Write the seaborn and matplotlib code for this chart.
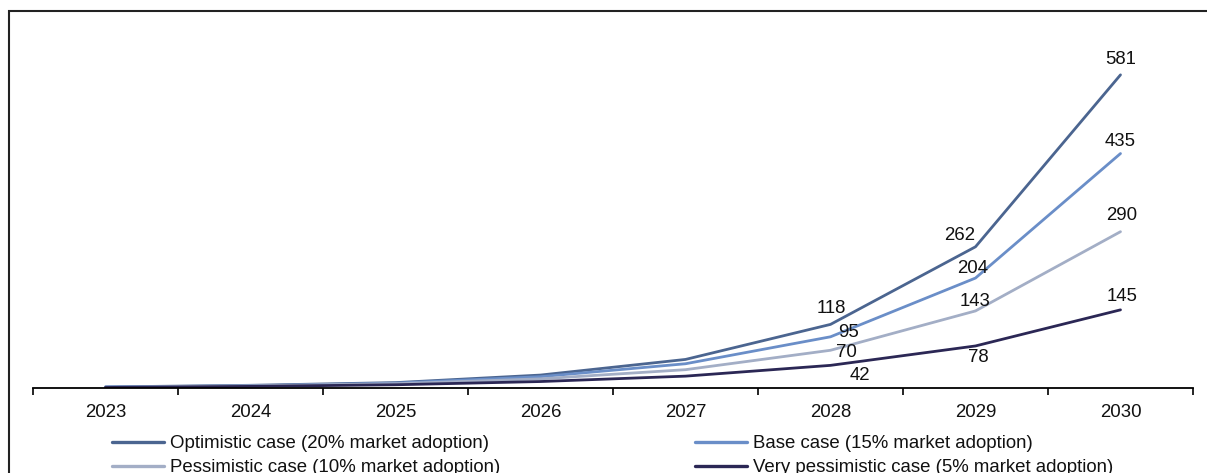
import matplotlib
matplotlib.use("Agg")
import matplotlib.pyplot as plt
import seaborn as sns
import pandas as pd
from matplotlib.patches import Rectangle

# Scenario data
years = ["2023", "2024", "2025", "2026", "2027", "2028", "2029", "2030"]
optimistic = [2, 5, 10, 24, 53, 118, 262, 581]
base = [2, 4, 9, 21, 45, 95, 204, 435]
pessimistic = [1, 4, 8, 17, 34, 70, 143, 290]
very_pessimistic = [1, 3, 6, 12, 22, 42, 78, 145]

series_names = [
    "Optimistic case (20% market adoption)",
    "Base case (15% market adoption)",
    "Pessimistic case (10% market adoption)",
    "Very pessimistic case (5% market adoption)",
]
series_values = [optimistic, base, pessimistic, very_pessimistic]
colors = ["#4b6590", "#6a8ec8", "#a3aec6", "#2b2755"]

# Labelled years and label offsets (pixels) per series
labelled = ["2028", "2029", "2030"]
label_offsets = [
    [(1, 16), (-16, 11), (0, 15)],
    [(18, 4), (-3, 10), (0, 12)],
    [(16, -2), (0, 9), (1, 16)],
    [(29, -10), (3, -12), (2, 13)],
]

rows = []
for name, vals in zip(series_names, series_values):
    for i, (y, v) in enumerate(zip(years, vals)):
        rows.append({"pos": i, "year": y, "value": v, "scenario": name})
df = pd.DataFrame(rows)

sns.set_theme(style="white")
plt.rcParams["font.family"] = ["Liberation Sans", "DejaVu Sans"]
FS = 13.4

fig = plt.figure(figsize=(12.07, 4.73), dpi=100)
W, H = 1207, 473
ax = fig.add_axes([33 / W, (H - 388) / H, (1193 - 33) / W, (388 - 30) / H])

sns.lineplot(data=df, x="pos", y="value", hue="scenario", hue_order=series_names,
             palette=colors, linewidth=2.0, ax=ax, legend=False, sort=False)

ax.set_xlim(-0.5, len(years) - 0.5)
ax.set_ylim(0, 358 / 0.539)
ax.set_xlabel("")
ax.set_ylabel("")
ax.set_yticks([])
ax.set_xticks(range(len(years)))
ax.set_xticklabels(years, fontsize=FS, color="#111111")
ax.set_xticks([i - 0.5 for i in range(len(years) + 1)], minor=True)
ax.tick_params(axis="x", which="major", length=0, pad=11.5)
ax.tick_params(axis="x", which="minor", length=5, width=1.2, color="black",
               direction="out", bottom=True)
for side in ["top", "right", "left"]:
    ax.spines[side].set_visible(False)
ax.spines["bottom"].set_color("black")
ax.spines["bottom"].set_linewidth(1.3)

# Data labels for the last three years
for vals, offs in zip(series_values, label_offsets):
    for yr, off in zip(labelled, offs):
        i = years.index(yr)
        ax.annotate(str(vals[i]), xy=(i, vals[i]), xytext=off,
                    textcoords="offset pixels", ha="center", va="center",
                    fontsize=FS, color="#111111")

# Legend below the axis, two columns filled row by row
order = [0, 2, 1, 3]
handles = [plt.Line2D([], [], color=colors[k], linewidth=2.4) for k in order]
labels = [series_names[k] for k in order]
fig.legend(handles, labels, loc="upper left", ncol=2,
           bbox_to_anchor=(103 / W, 1 - 426 / H), frameon=False,
           fontsize=FS, handlelength=2.8, handletextpad=0.28,
           columnspacing=10.5, labelspacing=0.38, borderpad=0,
           labelcolor="#111111")

# Outer frame
fig.patches.append(Rectangle((8.5 / W, -0.1), 1.2, 1 - 11.5 / H + 0.1,
                             transform=fig.transFigure, fill=False,
                             edgecolor="#222222", linewidth=1.5))

fig.savefig("out.png", dpi=100)
